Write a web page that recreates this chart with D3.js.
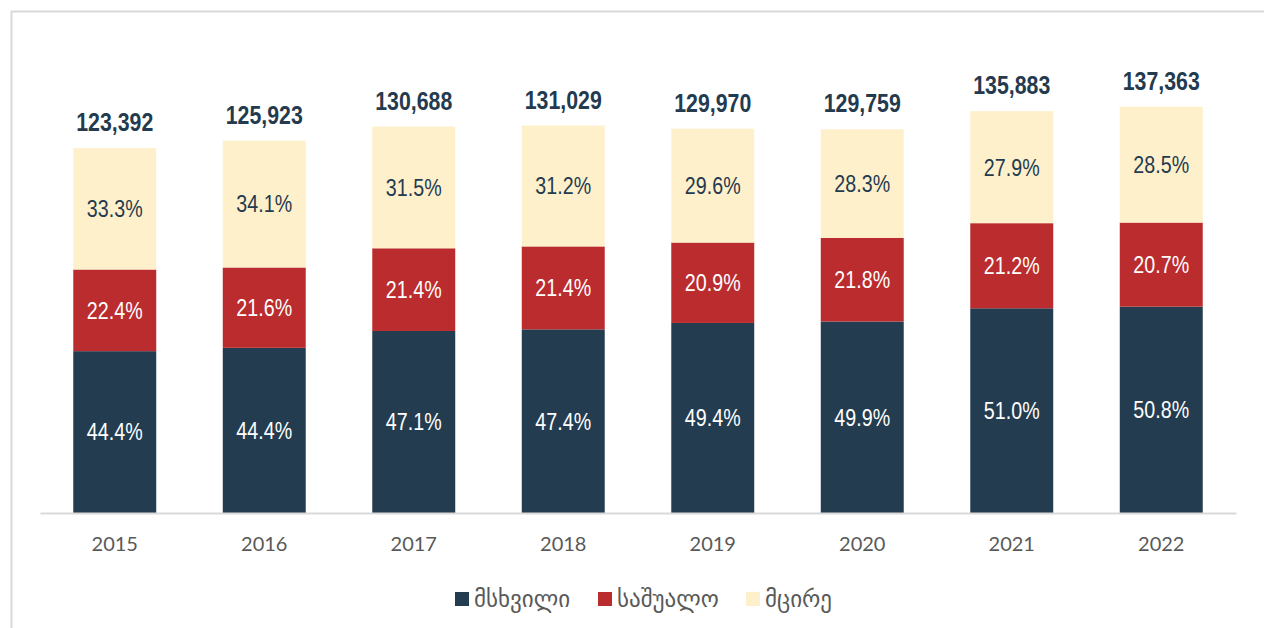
<!DOCTYPE html>
<html>
<head>
<meta charset="utf-8">
<script src="https://cdn.jsdelivr.net/npm/d3@7"></script>
<style>
  body { margin: 0; background: #fff; }
  svg { display: block; }
</style>
</head>
<body>
<div id="chart"></div>
<script>
var years = ["2015", "2016", "2017", "2018", "2019", "2020", "2021", "2022"];
var totals = [123392, 125923, 130688, 131029, 129970, 129759, 135883, 137363];
var large = [44.4, 44.4, 47.1, 47.4, 49.4, 49.9, 51.0, 50.8];
var medium = [22.4, 21.6, 21.4, 21.4, 20.9, 21.8, 21.2, 20.7];
var small = [33.3, 34.1, 31.5, 31.2, 29.6, 28.3, 27.9, 28.5];
var seriesNames = ["მსხვილი", "საშუალო", "მცირე"];
var seriesColors = ["#233c50", "#bb2c2e", "#fff0cc"];
var labelColors = ["#ffffff", "#ffffff", "#243a4e"];

var W = 1264, H = 628;
var narrow = "'Liberation Sans Narrow', 'Arial Narrow', 'Liberation Sans', Arial, sans-serif";
var squeeze = 0.82; // fake a narrow face

var svg = d3.select("#chart").append("svg")
    .attr("width", W)
    .attr("height", H);

// frame
svg.append("path")
    .attr("d", "M11.5," + H + "V11.5H" + W)
    .attr("fill", "none")
    .attr("stroke", "#d9d9d9")
    .attr("stroke-width", 2);

var x = d3.scaleBand()
    .domain(years)
    .range([40, 1236])
    .paddingInner(0.445)
    .paddingOuter(0.2225);

var y = d3.scaleLinear()
    .domain([0, 170000])
    .range([513, 10.3]);

// stacked rows
var rows = years.map(function(yr, i) {
  return { year: yr, total: totals[i], vals: [large[i], medium[i], small[i]] };
});

var series = [0, 1, 2].map(function(k) {
  return rows.map(function(r) {
    var before = d3.sum(r.vals.slice(0, k));
    var sumAll = d3.sum(r.vals);
    return {
      year: r.year,
      pct: r.vals[k],
      y0: r.total * before / sumAll,
      y1: r.total * (before + r.vals[k]) / sumAll
    };
  });
});

series.forEach(function(s, k) {
  svg.append("g").selectAll("rect")
      .data(s)
    .enter().append("rect")
      .attr("x", function(d) { return x(d.year); })
      .attr("width", x.bandwidth())
      .attr("y", function(d) { return y(d.y1); })
      .attr("height", function(d) { return y(d.y0) - y(d.y1); })
      .attr("fill", seriesColors[k]);

  svg.append("g").selectAll("text")
      .data(s)
    .enter().append("text")
      .attr("transform", function(d) {
        return "translate(" + (x(d.year) + x.bandwidth() / 2) + "," + ((y(d.y0) + y(d.y1)) / 2) + ") scale(" + squeeze + ",1)";
      })
      .attr("dy", "0.35em")
      .attr("text-anchor", "middle")
      .style("font-family", narrow)
      .style("font-size", "24px")
      .style("fill", labelColors[k])
      .text(function(d) { return d.pct.toFixed(1) + "%"; });
});

// totals
svg.append("g").selectAll("text")
    .data(rows)
  .enter().append("text")
    .attr("transform", function(d) {
      return "translate(" + (x(d.year) + x.bandwidth() / 2) + "," + (y(d.total) - 17) + ") scale(" + squeeze + ",1)";
    })
    .attr("text-anchor", "middle")
    .style("font-family", narrow)
    .style("font-weight", "bold")
    .style("font-size", "26px")
    .style("fill", "#243a4e")
    .text(function(d) { return d3.format(",")(d.total); });

// x axis
var xAxis = svg.append("g")
    .attr("transform", "translate(0,513)")
    .call(d3.axisBottom(x).tickSize(0).tickPadding(24));
xAxis.select(".domain").attr("stroke", "#d9d9d9").attr("stroke-width", 2);
xAxis.selectAll("text")
    .style("font-family", "Lato, 'Open Sans', sans-serif")
    .style("font-size", "20px")
    .style("fill", "#595959");

// legend
var legendX = [455, 598, 746];
var legend = svg.append("g").selectAll("g")
    .data(seriesNames)
  .enter().append("g")
    .attr("transform", function(d, i) { return "translate(" + legendX[i] + ",599)"; });
legend.append("rect")
    .attr("x", 0)
    .attr("y", -7)
    .attr("width", 14)
    .attr("height", 14)
    .attr("fill", function(d, i) { return seriesColors[i]; });
legend.append("text")
    .attr("x", 19)
    .attr("dy", "0.35em")
    .style("font-family", "'DejaVu Sans', sans-serif")
    .style("font-size", "23px")
    .style("fill", "#595959")
    .text(function(d) { return d; });
</script>
</body>
</html>
